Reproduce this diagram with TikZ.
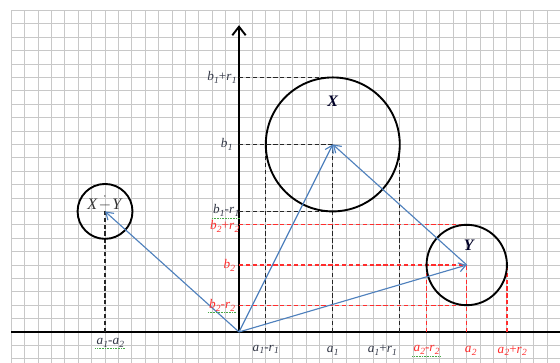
\documentclass[tikz,border=0pt]{standalone}
\usepackage{amsmath}
\usepackage{fontspec}
\setmainfont{Liberation Serif}
\usetikzlibrary{arrows.meta}
\definecolor{gridc}{RGB}{200,200,200}
\definecolor{vecblue}{RGB}{79,129,189}
\definecolor{redd}{RGB}{255,45,45}
\definecolor{labc}{RGB}{50,55,70}
\definecolor{spell}{RGB}{70,170,70}
\newcommand{\vs}[2]{\textit{#1}\kern0.3pt\raisebox{-0.2em}{\fontsize{10}{10}\selectfont\textit{#2}}}
\begin{document}
\begin{tikzpicture}[x=0.5cm,y=0.5cm,
  gridline/.style={draw=gridc,line width=1pt,step=0.5cm},
  axisline/.style={line width=2pt,black},
  bdash/.style={line width=1.3pt,black!85,dash pattern=on 4.5pt off 2.8pt},
  rdash/.style={line width=1.3pt,redd,dash pattern=on 4.5pt off 2.8pt},
  vec/.style={line width=1.2pt,vecblue,-{Straight Barb[length=2.6mm,width=3.4mm]}},
  circ/.style={circle,draw=black,line width=2pt,inner sep=0pt,outer sep=0pt},
  lab/.style={text=labc,inner sep=1pt,font=\fontsize{14}{16}\selectfont},
  rlab/.style={lab,text=redd},
  spellc/.style={spell,line width=0.7pt,densely dotted}]
\useasboundingbox (-17.84,-2.31) rectangle (23.96,24.78);
\fill[white] (-17.84,-2.31) rectangle (23.96,24.78);
\draw[gridline] (-17,-2.31) grid (23.96,24);
% named points
\coordinate (O) at (0,0);
\coordinate (Xc) at (7,14);
\coordinate (Yc) at (17,5);
\coordinate (Dc) at (-10,9);
\coordinate (Top) at (0,22.9);
% axes
\draw[axisline] (-17,0) -- (23.96,0);
\draw[axisline,-{Straight Barb[length=3.2mm,width=5mm]}] (O) -- (Top);
% black dashed guides
\draw[bdash] (0,19) -- (7,19);
\draw[bdash] (0,14) -- (Xc);
\draw[bdash] (0,9) -- (7,9);
\draw[bdash] (2,0) -- (2,14);
\draw[bdash] (7,0) -- (Xc);
\draw[bdash] (12,0) -- (12,14);
\draw[bdash] (-10,0) -- (Dc);
% red dashed guides
\draw[rdash] (0,8) -- (17,8);
\draw[rdash] (0,5) -- (Yc);
\draw[rdash] (0,2) -- (17,2);
\draw[rdash] (14,0) -- (14,5);
\draw[rdash] (17,0) -- (Yc);
\draw[rdash] (20,0) -- (20,5);
% circles
\node[circ,minimum size=5cm] (X) at (Xc) {};
\node[circ,minimum size=3cm] (Y) at (Yc) {};
\node[circ,minimum size=2.05cm] (D) at (Dc) {};
% vectors
\draw[vec] (O) -- (Xc);
\draw[vec] (O) -- (Yc);
\draw[vec] (O) -- (Dc);
\draw[vec] (Yc) -- (Xc);
% circle labels
\node[lab,text=black!85!blue] (XL) at (7,17.2) {\fontsize{17}{19}\selectfont\textbf{\textit{X}}};
\node[lab,text=black!85!blue] (YL) at (17.2,6.5) {\fontsize{17}{19}\selectfont\textbf{\textit{Y}}};
\node[lab,text=black!80] (DL) at (-10,9.6) {\fontsize{17}{19}\selectfont\textit{X}\kern1pt$\dot{-}$\kern1pt\textit{Y}};
% vertical axis labels
\node[lab,anchor=east] (lb1r1) at (-0.1,19) {\vs{b}{1}+\vs{r}{1}};
\node[lab,anchor=east] (lb1) at (-0.4,14) {\vs{b}{1}};
\node[lab,anchor=east] (lb1m) at (0.1,9.05) {\vs{b}{1}-\vs{r}{1}};
\node[rlab,anchor=east] (lb2r2) at (0.1,7.9) {\vs{b}{2}+\vs{r}{2}};
\node[rlab,anchor=east] (lb2) at (-0.2,4.95) {\vs{b}{2}};
\node[rlab,anchor=east] (lb2m) at (-0.2,2.0) {\vs{b}{2}-\vs{r}{2}};
% horizontal axis labels
\node[lab] (la12) at (-9.6,-0.8) {\vs{a}{1}-\vs{a}{2}};
\node[lab] (la1m) at (2,-1.3) {\vs{a}{1}-\vs{r}{1}};
\node[lab] (la1) at (7,-1.4) {\vs{a}{1}};
\node[lab] (la1p) at (10.7,-1.35) {\vs{a}{1}+\vs{r}{1}};
\node[rlab] (la2m) at (14,-1.35) {\vs{a}{2}-\vs{r}{2}};
\node[rlab] (la2) at (17.3,-1.4) {\vs{a}{2}};
\node[rlab] (la2p) at (20.4,-1.4) {\vs{a}{2}+\vs{r}{2}};
% spell-check underlines
\draw[spellc] ([yshift=-0.3pt]lb1m.south west) -- ([yshift=-0.3pt]lb1m.south east);
\draw[spellc] ([yshift=-0.3pt]lb2m.south west) -- ([yshift=-0.3pt]lb2m.south east);
\draw[spellc] ([yshift=-0.3pt]la12.south west) -- ([yshift=-0.3pt]la12.south east);
\draw[spellc] ([yshift=-0.3pt]la2m.south west) -- ([yshift=-0.3pt]la2m.south east);
\end{tikzpicture}
\end{document}
